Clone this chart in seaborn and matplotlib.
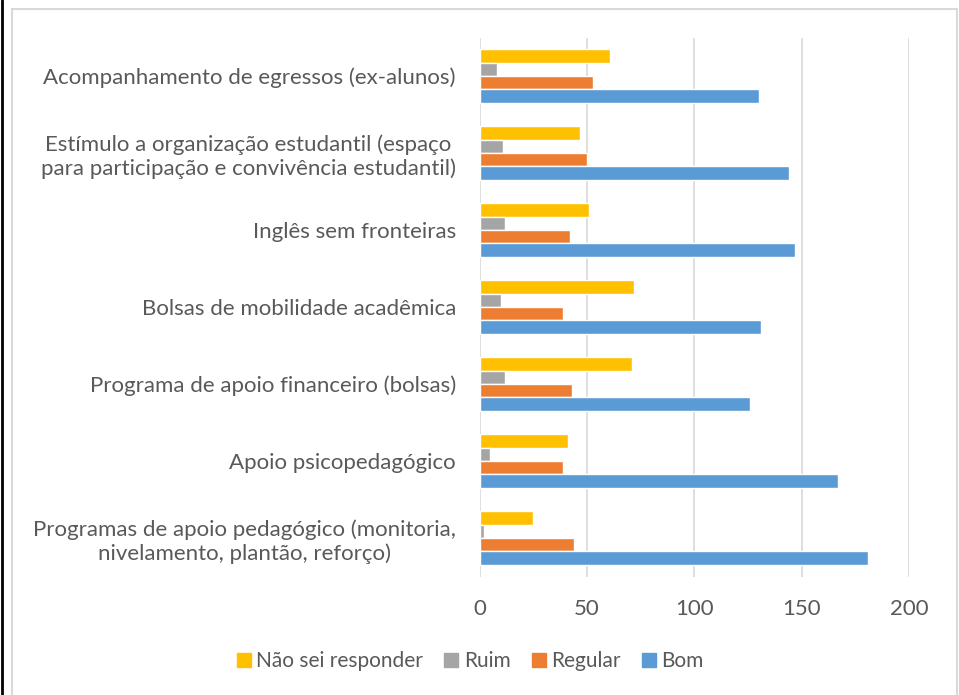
import pandas as pd
import seaborn as sns
import matplotlib.pyplot as plt
from matplotlib.patches import Rectangle
from matplotlib.lines import Line2D

categories = [
    'Acompanhamento de egressos (ex-alunos)',
    'Estímulo a organização estudantil (espaço\npara participação e convivência estudantil)',
    'Inglês sem fronteiras',
    'Bolsas de mobilidade acadêmica',
    'Programa de apoio financeiro (bolsas)',
    'Apoio psicopedagógico',
    'Programas de apoio pedagógico (monitoria,\nnivelamento, plantão, reforço)',
]
nao_sei = [61, 47, 51, 72, 71, 41, 25]
ruim = [8, 11, 12, 10, 12, 5, 2]
regular = [53, 50, 42, 39, 43, 39, 44]
bom = [130, 144, 147, 131, 126, 167, 181]

series_names = ['Não sei responder', 'Ruim', 'Regular', 'Bom']
colors = ['#FFC000', '#A5A5A5', '#ED7D31', '#5B9BD5']
xticks = [0, 50, 100, 150, 200]

rows = []
for name, vals in zip(series_names, [nao_sei, ruim, regular, bom]):
    for cat, v in zip(categories, vals):
        rows.append({'categoria': cat, 'serie': name, 'valor': v})
df = pd.DataFrame(rows)

sns.set_style('white')
plt.rcParams['font.family'] = ['Lato', 'DejaVu Sans']
text_color = '#595959'
fs = 16

fig = plt.figure(figsize=(9.59, 6.95), dpi=100)
ax = fig.add_axes([479.5 / 959, 1 - 576.5 / 695, (909 - 479.5) / 959, (576.5 - 37.5) / 695])

sns.barplot(data=df, y='categoria', x='valor', hue='serie', order=categories,
            hue_order=series_names, palette=colors, orient='h', width=0.69,
            saturation=1, ax=ax, legend=False)

ax.set_xlim(0, 200)
ax.set_xticks(xticks)
ax.set_xticklabels([str(t) for t in xticks])
ax.grid(axis='x', color='#D9D9D9', linewidth=1.2)
ax.set_axisbelow(True)
for s in ax.spines.values():
    s.set_visible(False)
ax.set_xlabel('')
ax.set_ylabel('')
ax.tick_params(axis='y', length=0, pad=17, labelsize=fs, labelcolor=text_color)
ax.tick_params(axis='x', length=0, pad=16, labelsize=fs, labelcolor=text_color)
for lbl in ax.get_yticklabels():
    lbl.set_multialignment('center')

handles = [Line2D([0], [0], marker='s', linestyle='', markersize=9.5,
                  markerfacecolor=c, markeredgecolor=c) for c in colors]
fig.legend(handles, series_names, loc='center', bbox_to_anchor=(470 / 959, 1 - 661 / 695),
           ncol=4, frameon=False, fontsize=15, labelcolor=text_color,
           handletextpad=0.25, columnspacing=1.0, handlelength=0.7)

# chart frame
fig.add_artist(Rectangle((12 / 959, -0.02), (957 - 12) / 959, 1.02 - 9 / 695,
                         transform=fig.transFigure, fill=False,
                         edgecolor='#D9D9D9', linewidth=1.5))
fig.add_artist(Line2D([2 / 959, 2 / 959], [0, 1], transform=fig.transFigure,
                      color='black', linewidth=2))

fig.savefig('out.png', dpi=100)
